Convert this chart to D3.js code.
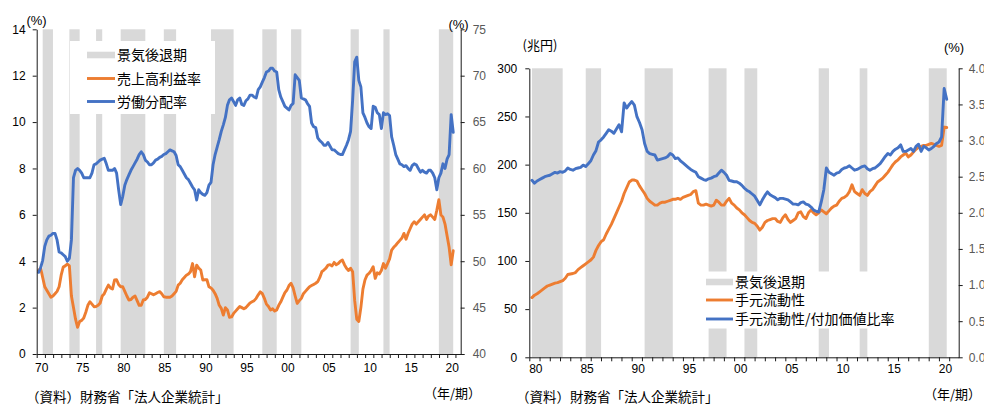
<!DOCTYPE html>
<html>
<head>
<meta charset="utf-8">
<script src="https://cdn.jsdelivr.net/npm/d3@7"></script>
<style>
  html, body { margin: 0; padding: 0; background: #fff; }
  svg { display: block; }
</style>
</head>
<body>
<svg id="chart" width="984" height="405"></svg>
<script>
// ---- Data -------------------------------------------------------------
// Recession periods (fractional years, start / end)
const recessions = [
  [1970.5, 1971.75], [1973.75, 1975.0], [1977.0, 1977.75], [1980.0, 1983.0],
  [1985.25, 1986.75], [1991.0, 1993.75], [1997.25, 1999.0], [2000.75, 2002.0],
  [2008.0, 2009.0], [2012.0, 2012.75], [2018.75, 2020.5]
];

// Quarterly, 1970Q1 – 2020Q3 : ordinary profit to sales (%)
const profitMargin = [
  3.6, 3.7, 3.3, 2.9,   2.75, 2.6, 2.45, 2.5,   2.6, 2.7, 2.9, 3.4,   3.75, 3.8, 3.88, 3.8,
  2.5, 2.0, 1.5, 1.15,  1.4, 1.45, 1.55, 1.8,   2.1, 2.25, 2.15, 2.04, 2.05, 2.1, 2.2, 2.5,
  2.6, 2.8, 2.97, 2.85, 2.8, 3.19, 3.2, 3.0,    2.9, 2.9, 2.7, 2.5,    2.33, 2.35, 2.45, 2.5,
  2.3, 2.1, 2.1, 2.33,  2.35, 2.45, 2.64, 2.6,  2.55, 2.6, 2.65, 2.69, 2.6, 2.47, 2.45, 2.45,
  2.45, 2.5, 2.6, 2.7,  2.97, 3.05, 3.2, 3.3,   3.4, 3.45, 3.55, 3.9,  3.33, 3.83, 3.7, 3.62,
  3.19, 3.2, 3.2, 2.9,  2.85, 2.75, 2.6, 2.4,   2.1, 1.97, 1.68, 2.0,  1.9, 1.58, 1.6, 1.75,
  1.85, 1.95, 2.05, 2.0, 1.95, 2.0, 2.1, 2.2,   2.25, 2.3, 2.4, 2.55,  2.68, 2.6, 2.4, 2.15,
  2.05, 1.9, 1.95, 1.85, 1.9, 2.1, 2.25, 2.45,  2.65, 2.76, 2.95, 3.05, 2.85, 2.5, 2.18, 2.3,
  2.4, 2.6, 2.7, 2.8,   2.9, 2.95, 3.0, 3.05,   3.12, 3.3, 3.55, 3.62, 3.7, 3.83, 3.85, 3.8,
  3.95, 3.85, 3.9, 4.0, 4.05, 3.85, 3.7, 3.6,   3.7, 3.55, 2.3, 1.5,   1.4, 2.0, 2.8, 3.19,
  3.4, 3.48, 3.6, 3.76, 3.26, 3.5, 3.45, 3.6,   3.9, 3.7, 3.9, 4.1,    4.48, 4.6, 4.69, 4.8,
  4.9, 5.0, 5.2, 4.95,  5.2, 5.4, 5.6, 5.7,     5.6, 5.7, 5.8, 5.9,    6.0, 5.8, 5.95, 6.0,
  5.9, 5.8, 6.2, 6.65,  6.0, 5.9, 5.6, 5.1,     4.6, 3.85, 4.45
];

// Quarterly, 1970Q1 – 2020Q3 : labour share (%)
const laborShare = [
  48.8, 49.3, 50.1, 51.6, 52.3, 52.7, 52.8, 53.0, 53.0, 52.3, 51.0, 50.9, 50.7, 50.5, 50.0, 50.3,
  52.3, 59.0, 59.8, 60.0, 59.8, 59.5, 59.0, 59.0, 59.0, 59.0, 59.5, 60.4, 60.5, 60.7, 60.9, 61.0,
  61.1, 60.5, 59.8, 59.8, 59.8, 60.0, 59.5, 57.7, 56.1, 57.0, 58.2, 58.8, 59.3, 59.8, 60.2, 60.6,
  61.0, 61.5, 61.8, 61.5, 60.9, 60.7, 60.4, 60.4, 60.6, 60.9, 61.0, 61.2, 61.3, 61.5, 61.6, 61.8,
  62.0, 61.9, 61.8, 61.4, 60.4, 60.2, 59.8, 59.4, 59.0, 58.8, 58.4, 58.0, 57.7, 56.6, 57.7, 57.4,
  57.2, 57.1, 57.4, 58.2, 58.5, 60.4, 61.5, 62.3, 63.1, 64.0, 64.7, 65.5, 66.8, 67.4, 67.6, 67.2,
  66.8, 67.4, 67.6, 66.9, 66.8, 67.3, 67.5, 67.9, 67.9, 67.7, 67.6, 68.5, 68.8, 69.3, 69.8, 70.4,
  70.5, 70.8, 70.8, 70.5, 70.4, 68.5, 67.7, 67.2, 66.7, 66.5, 66.3, 66.8, 67.0, 70.1, 69.8, 69.5,
  67.6, 67.5, 67.4, 67.0, 66.7, 64.9, 64.5, 64.4, 63.3, 63.0, 62.8, 62.5, 62.5, 62.8, 62.4, 62.0,
  62.0, 61.8, 61.6, 61.5, 61.5, 62.0, 62.5, 63.1, 64.0, 67.4, 71.5, 72.0, 69.5, 68.8, 66.0, 65.5,
  64.9, 64.5, 64.3, 66.7, 66.6, 66.0, 65.8, 64.3, 66.0, 65.8, 65.9, 65.7, 63.4, 62.5, 61.5, 61.0,
  60.5, 60.4, 60.2, 60.3, 60.0, 59.8, 60.3, 60.5, 60.4, 60.0, 59.6, 59.8, 59.6, 59.5, 59.8, 59.8,
  59.5, 59.0, 57.7, 59.0, 59.5, 60.5, 60.0, 61.0, 61.5, 65.8, 63.9
];

// Quarterly, 1980Q1 – 2020Q3 : liquid assets (trillion yen)
const liquidity = [
  62, 64.5, 66, 68,   70, 72, 74, 75,     76, 77, 77.5, 78.5,  79.5, 82, 86, 86.5,
  87, 88, 91, 93,     95, 97, 99, 101,    104, 111, 116, 120,  122, 128, 133, 138,
  144, 150, 156, 162, 170, 176, 182, 184, 184, 183, 178, 174,  170, 165, 162, 160,
  158, 158, 160, 161, 161, 162, 163, 164, 164, 165, 164, 166,  167, 168, 169, 172,
  173, 160, 158, 158, 159, 158, 157, 158, 163, 161, 158, 158,  162, 165, 160, 158,
  155, 153, 150, 148, 145, 142, 140, 139, 136, 132, 135, 140,  142, 143, 144, 144,
  141, 140, 145, 148, 143, 140, 142, 144, 150, 151, 146, 144,  150, 153, 150, 148,
  150, 153, 151, 149, 152, 155, 157, 158, 162, 165, 166, 168,  172, 179, 172, 170,
  168, 174, 170, 168, 172, 174, 178, 182, 184, 186, 189, 192,  196, 200, 203, 205,
  208, 210, 212, 208, 210, 213, 216, 218, 219, 220, 220, 221,  222, 221, 220, 219,
  220, 239, 238.5
];

// Quarterly, 1980Q1 – 2020Q3 : liquid assets / value added (%)
const liquidityRatio = [
  2.45, 2.41, 2.44, 2.46, 2.48, 2.50, 2.51, 2.52, 2.54, 2.56, 2.55, 2.57, 2.56, 2.58, 2.62, 2.60,
  2.59, 2.61, 2.62, 2.63, 2.66, 2.64, 2.68, 2.72, 2.80, 2.86, 2.98, 3.01, 3.05, 3.10, 3.15, 3.13,
  3.10, 3.16, 3.22, 3.12, 3.52, 3.45, 3.50, 3.54, 3.49, 3.33, 3.25, 3.15, 2.96, 2.85, 2.82, 2.81,
  2.80, 2.73, 2.74, 2.75, 2.76, 2.78, 2.82, 2.80, 2.75, 2.76, 2.72, 2.69, 2.66, 2.63, 2.60, 2.58,
  2.56, 2.50, 2.48, 2.46, 2.45, 2.47, 2.48, 2.50, 2.51, 2.55, 2.59, 2.56, 2.52, 2.45, 2.44, 2.43,
  2.43, 2.41, 2.38, 2.34, 2.31, 2.29, 2.26, 2.23, 2.17, 2.11, 2.18, 2.24, 2.29, 2.25, 2.23, 2.21,
  2.18, 2.20, 2.20, 2.19, 2.18, 2.15, 2.12, 2.12, 2.11, 2.14, 2.15, 2.12, 2.11, 2.08, 2.04, 2.02,
  2.01, 2.15, 2.32, 2.62, 2.56, 2.54, 2.52, 2.55, 2.56, 2.60, 2.62, 2.63, 2.65, 2.62, 2.59, 2.60,
  2.62, 2.64, 2.65, 2.61, 2.59, 2.61, 2.62, 2.65, 2.68, 2.73, 2.78, 2.82, 2.80, 2.85, 2.88, 2.90,
  2.94, 2.85, 2.85, 2.87, 2.89, 2.85, 2.92, 2.95, 2.85, 2.92, 2.90, 2.87, 2.89, 2.92, 2.96, 2.98,
  3.05, 3.72, 3.57
];

// Axis tick values and labels
const leftYTicks   = [0, 2, 4, 6, 8, 10, 12, 14];
const leftY2Ticks  = [40, 45, 50, 55, 60, 65, 70, 75];
const rightYTicks  = [0, 50, 100, 150, 200, 250, 300];
const rightY2Ticks = [0, 0.5, 1.0, 1.5, 2.0, 2.5, 3.0, 3.5, 4.0];
const leftYearLabels  = ["70", "75", "80", "85", "90", "95", "00", "05", "10", "15", "20"];
const rightYearLabels = ["80", "85", "90", "95", "00", "05", "10", "15", "20"];

const leftLegend  = ["景気後退期", "売上高利益率", "労働分配率"];
const rightLegend = ["景気後退期", "手元流動性", "手元流動性/付加価値比率"];

// ---- Styling ----------------------------------------------------------
const C_BAND = "#d9d9d9", C_ORANGE = "#ed7d31", C_BLUE = "#4472c4", C_AXIS = "#1a1a1a";
const NUM_FONT = '"Liberation Sans", Arial, sans-serif';
const JP_FONT  = '"Noto Sans CJK JP", "Noto Sans", sans-serif';

const svg = d3.select("#chart");

function quarterSeries(startYear, values) {
  return values.map((v, i) => ({ t: startYear + i / 4, v }));
}

function drawPanel(p) {
  const g = svg.append("g");
  const [x0, x1] = p.x.range();
  const [yBottom, yTop] = p.y1.range();

  // recession bands
  const d0 = p.x.domain()[0];
  g.append("g").selectAll("rect")
    .data(recessions.filter(r => r[1] > d0))
    .join("rect")
    .attr("x", d => p.x(Math.max(d[0], d0)))
    .attr("width", d => p.x(d[1]) - p.x(Math.max(d[0], d0)))
    .attr("y", yTop)
    .attr("height", yBottom - yTop)
    .attr("fill", C_BAND);

  // series lines
  const line1 = d3.line().x(d => p.x(d.t)).y(d => p.y1(d.v));
  const line2 = d3.line().x(d => p.x(d.t)).y(d => p.y2(d.v));
  g.append("path").datum(quarterSeries(p.start, p.s1))
    .attr("d", line1).attr("fill", "none").attr("stroke", C_ORANGE)
    .attr("stroke-width", 2.9).attr("stroke-linejoin", "round").attr("stroke-linecap", "round");
  g.append("path").datum(quarterSeries(p.start, p.s2))
    .attr("d", line2).attr("fill", "none").attr("stroke", C_BLUE)
    .attr("stroke-width", 2.9).attr("stroke-linejoin", "round").attr("stroke-linecap", "round");

  // axes
  const styleAxis = (sel, color) => {
    sel.select(".domain").attr("stroke", C_AXIS);
    sel.selectAll(".tick line").attr("stroke", C_AXIS);
    sel.selectAll("text").attr("font-family", NUM_FONT).attr("font-size", 12).attr("fill", color);
  };

  g.append("g").attr("transform", `translate(${x0},0)`)
    .call(d3.axisLeft(p.y1).tickValues(p.y1Ticks).tickSizeInner(4).tickSizeOuter(0)
      .tickPadding(p.y1Pad).tickFormat(p.y1Fmt))
    .call(sel => styleAxis(sel, "#000"));

  g.append("g").attr("transform", `translate(${x1},0)`)
    .call(d3.axisRight(p.y2).tickValues(p.y2Ticks).tickSizeInner(4).tickSizeOuter(0)
      .tickPadding(p.y2Pad).tickFormat(p.y2Fmt))
    .call(sel => styleAxis(sel, "#595959"));

  const yearTicks = d3.range(Math.ceil(p.x.domain()[1] - d0)).map(k => d0 + k);
  g.append("g").attr("transform", `translate(0,${yBottom})`)
    .call(d3.axisBottom(p.x).tickValues(yearTicks).tickSizeInner(4).tickSizeOuter(0).tickFormat(""))
    .call(sel => styleAxis(sel, "#000"));

  g.append("g").selectAll("text")
    .data(p.yearLabels)
    .join("text")
    .attr("x", (d, i) => p.x(p.labelStart + 5 * i + 0.38))
    .attr("y", p.labelY)
    .attr("text-anchor", "middle")
    .attr("font-family", NUM_FONT).attr("font-size", 12).attr("fill", "#000")
    .text(d => d);

  // unit labels
  p.units.forEach(u => {
    g.append("text").attr("x", u.x).attr("y", u.y).attr("text-anchor", u.anchor || "start")
      .attr("font-family", u.jp ? JP_FONT : NUM_FONT).attr("font-size", u.size || 13)
      .attr("fill", "#000").text(u.text);
  });

  // legend
  const L = p.legend;
  g.append("rect").attr("x", L.x).attr("y", L.y).attr("width", L.w).attr("height", L.h).attr("fill", "#fff");
  const items = g.append("g").selectAll("g").data(L.labels).join("g")
    .attr("transform", (d, i) => `translate(${L.sx},${L.rows[i]})`);
  items.each(function (d, i) {
    const it = d3.select(this);
    if (i === 0) {
      it.append("rect").attr("x", 0).attr("y", -3.3).attr("width", L.sw).attr("height", 6.6).attr("fill", C_BAND);
    } else {
      it.append("line").attr("x1", 0).attr("x2", L.sw).attr("y1", 0).attr("y2", 0)
        .attr("stroke", i === 1 ? C_ORANGE : C_BLUE).attr("stroke-width", 2.9);
    }
    it.append("text").attr("x", L.sw + 2).attr("y", 5).attr("font-family", JP_FONT)
      .attr("font-size", 14).attr("fill", "#000").text(d);
  });

  // footer
  p.footer.forEach(f => {
    g.append("text").attr("x", f.x).attr("y", f.y).attr("text-anchor", f.anchor || "start")
      .attr("font-family", JP_FONT).attr("font-size", f.size).attr("fill", "#000").text(f.text);
  });
}

// ---- Left panel: profit margin & labour share ---------------------------
drawPanel({
  x:  d3.scaleLinear().domain([1969.77, 2021.41]).range([36.7, 460.7]),
  y1: d3.scaleLinear().domain([0, 14]).range([354, 29.3]),
  y2: d3.scaleLinear().domain([40, 75]).range([354, 29.3]),
  start: 1970, s1: profitMargin, s2: laborShare,
  y1Ticks: leftYTicks, y2Ticks: leftY2Ticks,
  y1Fmt: d3.format("d"), y2Fmt: d3.format("d"),
  y1Pad: 7, y2Pad: 8,
  yearLabels: leftYearLabels, labelStart: 1970, labelY: 372,
  units: [
    { text: "(%)", x: 36.5, y: 24.5, anchor: "middle" },
    { text: "(%)", x: 458.5, y: 28.5, anchor: "middle" }
  ],
  legend: { x: 70, y: 41, w: 145, h: 73, sx: 87, sw: 28, rows: [55, 78.5, 101.5], labels: leftLegend },
  footer: [
    { text: "（資料）財務省「法人企業統計」", x: 26, y: 401.5, size: 13.5 },
    { text: "（年/期）", x: 481, y: 398, size: 13, anchor: "end" }
  ]
});

// ---- Right panel: liquid assets & ratio ---------------------------------
drawPanel({
  x:  d3.scaleLinear().domain([1979.74, 2021.67]).range([529.3, 958.7]),
  y1: d3.scaleLinear().domain([0, 300]).range([357.3, 68.3]),
  y2: d3.scaleLinear().domain([0, 4]).range([357.3, 68.3]),
  start: 1980, s1: liquidity, s2: liquidityRatio,
  y1Ticks: rightYTicks, y2Ticks: rightY2Ticks,
  y1Fmt: d3.format("d"), y2Fmt: d3.format(".1f"),
  y1Pad: 8, y2Pad: 6,
  yearLabels: rightYearLabels, labelStart: 1980, labelY: 372.5,
  units: [
    { text: "(兆円)", x: 540, y: 50, anchor: "middle", jp: true },
    { text: "(%)", x: 954, y: 52, anchor: "middle" }
  ],
  legend: { x: 703, y: 271.5, w: 210, h: 57, sx: 706, sw: 27, rows: [282, 300, 319], labels: rightLegend },
  footer: [
    { text: "（資料）財務省「法人企業統計」", x: 516, y: 402, size: 13.5 },
    { text: "（年/期）", x: 981, y: 399, size: 13, anchor: "end" }
  ]
});
</script>
</body>
</html>
